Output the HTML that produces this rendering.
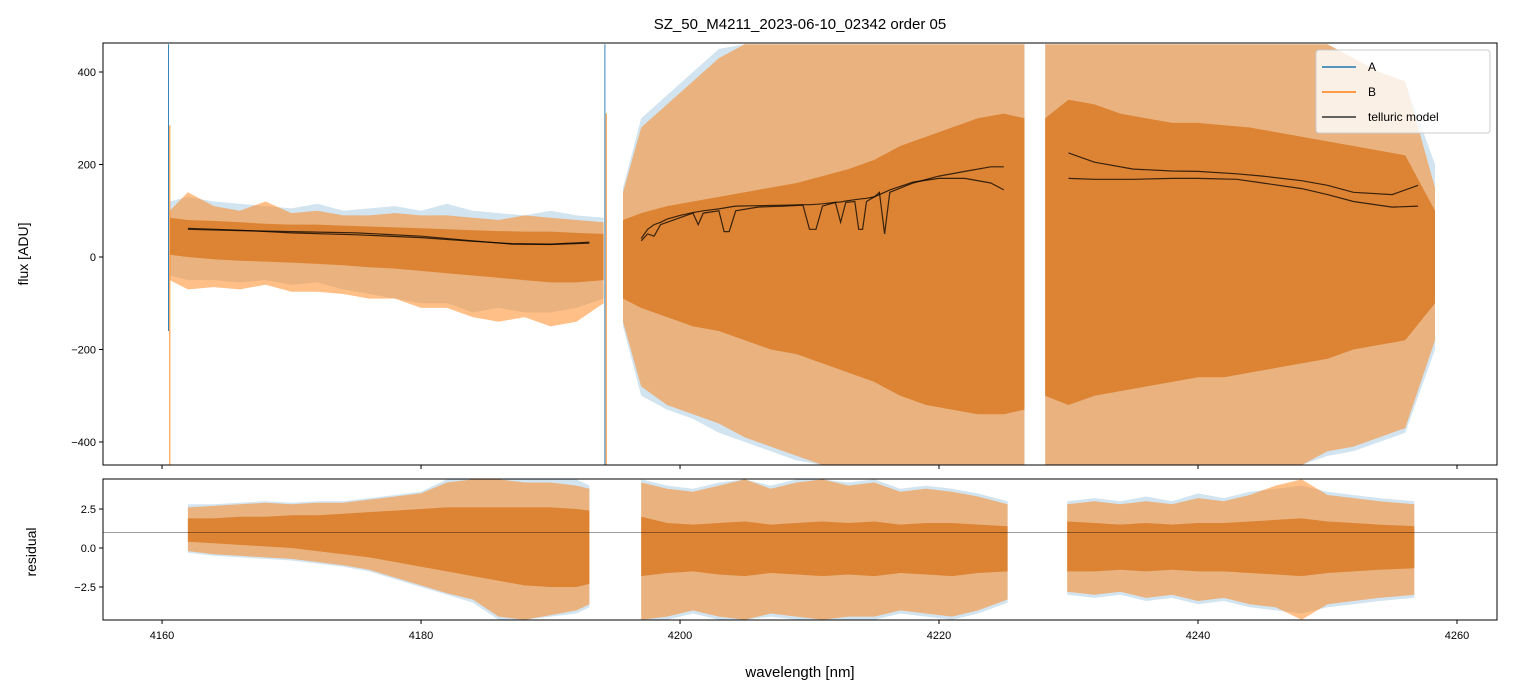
<!DOCTYPE html>
<html><head><meta charset="utf-8">
<style>
body{margin:0;background:#fff;}
svg{display:block;font-family:"Liberation Sans",sans-serif;}
</style></head>
<body>
<svg id="chart" width="1513" height="696" viewBox="0 0 1513 696">
<text x="800" y="29" text-anchor="middle" font-size="15">SZ_50_M4211_2023-06-10_02342  order 05</text>
<g id="panelTop"></g>
<g id="panelBot"></g>
<text x="28" y="254" transform="rotate(-90 28 254)" text-anchor="middle" font-size="14">flux [ADU]</text>
<text x="36" y="552" transform="rotate(-90 36 552)" text-anchor="middle" font-size="14">residual</text>
<text x="800" y="677" text-anchor="middle" font-size="15">wavelength [nm]</text>
</svg>
<script>
// ---- data ----
const xTicks=[4160,4180,4200,4220,4240,4260];
const yTicksTop=[400,200,0,-200,-400];
const yTickLabelsTop=["400","200","0","\u2212200","\u2212400"];
const yTicksBot=[2.5,0.0,-2.5];
const yTickLabelsBot=["2.5","0.0","\u22122.5"];
const fluxWl1=[4160.6,4162,4164,4166,4168,4170,4172,4174,4176,4178,4180,4182,4184,4186,4188,4190,4192,4194.1];
const fluxAHi1=[120,130,120,115,110,105,115,100,105,110,100,115,100,95,90,100,90,85];
const fluxALo1=[-40,-50,-50,-55,-50,-60,-55,-70,-80,-90,-100,-100,-120,-110,-120,-120,-110,-90];
const fluxBHi1=[100,140,110,100,120,95,100,90,90,95,90,90,85,80,90,85,80,75];
const fluxBLo1=[-50,-70,-65,-70,-60,-75,-75,-80,-90,-90,-110,-110,-130,-140,-130,-150,-140,-100];
const coreHi1=[85,80,78,75,72,70,70,68,66,64,62,60,58,56,55,55,52,50];
const coreLo1=[5,0,-5,-8,-10,-12,-15,-18,-22,-25,-30,-35,-40,-45,-50,-55,-55,-50];
const fluxWl2=[4195.6,4197,4199,4201,4203,4205,4207,4209,4211,4213,4215,4217,4219,4221,4223,4225,4226.6];
const fluxAHi2=[150,300,350,400,450,460,460,460,460,460,460,460,460,460,460,460,460];
const fluxALo2=[-150,-300,-330,-350,-380,-400,-420,-440,-450,-450,-450,-450,-450,-450,-450,-450,-450];
const fluxBHi2=[140,280,330,380,430,460,460,460,460,460,460,460,460,460,460,460,460];
const fluxBLo2=[-140,-280,-320,-340,-360,-390,-410,-430,-450,-450,-450,-450,-450,-450,-450,-450,-450];
const coreHi2=[80,95,110,120,130,140,150,160,175,190,210,240,260,280,300,310,300];
const coreLo2=[-90,-110,-130,-150,-160,-180,-200,-210,-230,-250,-270,-300,-320,-330,-340,-340,-330];
const fluxWl3=[4228.2,4230,4232,4234,4236,4238,4240,4242,4244,4246,4248,4250,4252,4254,4256,4258.3];
const fluxAHi3=[460,460,460,460,460,460,460,460,460,460,460,460,430,400,380,200];
const fluxALo3=[-450,-450,-450,-450,-450,-450,-450,-450,-450,-450,-450,-430,-420,-400,-380,-200];
const fluxBHi3=[460,460,460,460,460,460,460,460,460,460,460,460,430,400,380,150];
const fluxBLo3=[-450,-450,-450,-450,-450,-450,-450,-450,-450,-450,-450,-420,-410,-390,-370,-180];
const coreHi3=[300,340,330,310,300,290,290,285,280,270,260,250,240,230,220,100];
const coreLo3=[-300,-320,-300,-290,-280,-270,-260,-260,-250,-240,-230,-220,-200,-190,-180,-100];
const tellWl1=[4162,4166,4170,4175,4180,4184,4187,4190,4193];
const tell1a=[60,57,55,52,45,35,28,27,30];
const tell1b=[62,58,52,48,42,34,29,28,32];
const tellWl2=[4197,4197.5,4198,4198.5,4199,4200,4201,4201.4,4201.8,4203,4203.4,4203.8,4204.3,4206,4208,4209.5,4210,4210.5,4211,4212,4212.4,4212.8,4213.5,4213.8,4214.1,4214.4,4215,4215.4,4215.8,4216.2,4218,4220,4222,4224,4225];
const tell2a=[35,50,45,70,75,85,95,70,95,100,55,55,100,108,110,112,60,60,110,118,75,118,120,60,60,120,130,140,50,140,160,175,185,195,195];
const tell2b=[40,60,70,75,82,90,96,98,100,104,106,108,110,111,112,113,113,114,115,118,119,121,124,125,126,127,130,135,140,145,162,170,170,160,145];
const tellWl3=[4230,4232,4235,4238,4240,4243,4245,4248,4250,4252,4255,4257];
const tell3a=[225,205,190,186,185,180,175,165,155,140,135,155];
const tell3b=[170,168,168,170,170,168,160,148,135,120,108,110];
const resWl1=[4162,4164,4166,4168,4170,4172,4174,4176,4178,4180,4182,4184,4186,4188,4190,4192,4193];
const resAHi1=[2.8,2.8,2.9,3.0,2.9,3.0,3.0,3.2,3.4,3.6,4.4,4.4,4.4,4.4,4.4,4.4,4.0];
const resALo1=[-0.3,-0.5,-0.6,-0.7,-0.8,-1.0,-1.2,-1.5,-2.0,-2.5,-3.0,-3.5,-4.6,-4.6,-4.4,-4.2,-3.8];
const resBHi1=[2.6,2.7,2.8,2.9,2.8,2.9,2.9,3.1,3.3,3.5,4.2,4.4,4.4,4.2,4.2,4.0,3.8];
const resBLo1=[-0.2,-0.4,-0.5,-0.6,-0.7,-0.9,-1.1,-1.4,-1.9,-2.4,-2.9,-3.3,-4.4,-4.6,-4.3,-4.0,-3.6];
const resCoreHi1=[1.9,1.9,2.0,2.0,2.1,2.1,2.2,2.3,2.4,2.5,2.6,2.6,2.6,2.6,2.6,2.5,2.4];
const resCoreLo1=[0.4,0.3,0.2,0.1,0.0,-0.2,-0.4,-0.6,-0.9,-1.2,-1.5,-1.8,-2.1,-2.4,-2.5,-2.5,-2.3];
const resWl2=[4197,4199,4201,4203,4205,4207,4209,4211,4213,4215,4217,4219,4221,4223,4225.3];
const resAHi2=[4.4,4.0,3.8,4.2,4.4,4.0,4.4,4.4,4.2,4.4,3.8,4.0,3.8,3.5,3.0];
const resALo2=[-4.6,-4.6,-4.2,-4.6,-4.6,-4.4,-4.6,-4.6,-4.6,-4.6,-4.2,-4.4,-4.6,-4.2,-3.5];
const resBHi2=[4.2,3.8,3.6,4.0,4.4,3.8,4.2,4.4,4.0,4.2,3.6,3.8,3.6,3.3,2.8];
const resBLo2=[-4.6,-4.4,-4.0,-4.4,-4.6,-4.2,-4.4,-4.6,-4.4,-4.4,-4.0,-4.2,-4.4,-4.0,-3.3];
const resCoreHi2=[2.0,1.6,1.5,1.6,1.7,1.5,1.6,1.7,1.6,1.7,1.5,1.6,1.6,1.5,1.4];
const resCoreLo2=[-1.8,-1.6,-1.5,-1.7,-1.8,-1.6,-1.7,-1.8,-1.7,-1.8,-1.6,-1.7,-1.8,-1.6,-1.5];
const resWl3=[4229.9,4232,4234,4236,4238,4240,4242,4244,4246,4248,4250,4252,4254,4256.7];
const resAHi3=[3.0,3.2,3.0,3.3,3.0,3.5,3.2,3.6,3.8,4.0,3.6,3.4,3.2,3.0];
const resALo3=[-3.0,-3.2,-3.0,-3.4,-3.2,-3.6,-3.4,-3.8,-4.0,-4.2,-3.8,-3.6,-3.4,-3.2];
const resBHi3=[2.8,3.0,2.8,3.0,2.8,3.2,3.0,3.4,4.0,4.4,3.4,3.2,3.0,2.8];
const resBLo3=[-2.8,-3.0,-2.8,-3.2,-3.0,-3.4,-3.2,-3.6,-3.8,-4.6,-3.6,-3.4,-3.2,-3.0];
const resCoreHi3=[1.7,1.6,1.5,1.6,1.5,1.6,1.6,1.7,1.8,1.9,1.7,1.6,1.5,1.4];
const resCoreLo3=[-1.5,-1.5,-1.4,-1.5,-1.4,-1.5,-1.5,-1.6,-1.7,-1.8,-1.6,-1.5,-1.4,-1.3];
const residualRef=[1.0];

// ---- scales ----
const L=103,R=1497,T1=43,B1=465,T2=479,B2=620;
const X0=4155.44,X1=4263.09;
const xs=v=>L+(v-X0)/(X1-X0)*(R-L);
const ysT=v=>Math.max(T1,Math.min(B1,257-v*0.4625));
const ysB=v=>Math.max(T2,Math.min(B2,548-v*15.6));
const NS="http://www.w3.org/2000/svg";
function mk(tag,attrs,parent){const e=document.createElementNS(NS,tag);for(const k in attrs)e.setAttribute(k,attrs[k]);parent.appendChild(e);return e;}
const panelTop=document.getElementById('panelTop'),panelBot=document.getElementById('panelBot');
const blue="#1f77b4",orange="#ff7f0e",core="#dc8232";

function band(g,wl,hi,lo,ys,color,op,name){
  let pts=wl.map((w,i)=>xs(w).toFixed(1)+","+ys(hi[i]).toFixed(1));
  for(let i=wl.length-1;i>=0;i--)pts.push(xs(wl[i]).toFixed(1)+","+ys(lo[i]).toFixed(1));
  const p=mk('polygon',{points:pts.join(" "),fill:color,'fill-opacity':op,stroke:'none'},g);
  
  
}
function line(g,wl,vals,ys,color,w,op,name){
  const pts=wl.map((x,i)=>xs(x).toFixed(1)+","+ys(vals[i]).toFixed(1)).join(" ");
  const p=mk('polyline',{points:pts,fill:'none',stroke:color,'stroke-width':w,'stroke-opacity':op},g);
  
  
}
const defs=mk('defs',{},document.getElementById('chart'));
const c1=mk('clipPath',{id:'c1'},defs);mk('rect',{x:L,y:T1,width:R-L,height:B1-T1},c1);
const c2=mk('clipPath',{id:'c2'},defs);mk('rect',{x:L,y:T2,width:R-L,height:B2-T2},c2);
const gT=mk('g',{'clip-path':'url(#c1)'},panelTop);
const gB=mk('g',{'clip-path':'url(#c2)'},panelBot);

const fluxSets=[[fluxWl1,fluxAHi1,fluxALo1,fluxBHi1,fluxBLo1,coreHi1,coreLo1],[fluxWl2,fluxAHi2,fluxALo2,fluxBHi2,fluxBLo2,coreHi2,coreLo2],[fluxWl3,fluxAHi3,fluxALo3,fluxBHi3,fluxBLo3,coreHi3,coreLo3]];
fluxSets.forEach((s,i)=>{
  band(gT,s[0],s[1],s[2],ysT,blue,0.2,'flux-a-spikes-'+(i+1));
  band(gT,s[0],s[3],s[4],ysT,orange,0.5,'flux-b-spikes-'+(i+1));
  band(gT,s[0],s[5],s[6],ysT,core,0.97,'flux-core-'+(i+1));
});
line(gT,[4160.5,4160.5],[460,-160],ysT,blue,1,0.9,'flux-a-spike');
line(gT,[4160.6,4160.6],[285,-450],ysT,orange,1,0.9,'flux-b-spike');
line(gT,[4194.2,4194.2],[460,-450],ysT,blue,1,0.9,'flux-a-spike-2');
line(gT,[4194.3,4194.3],[310,-450],ysT,orange,1,0.9,'flux-b-spike-2');
[[tellWl1,tell1a],[tellWl1,tell1b],[tellWl2,tell2a],[tellWl2,tell2b],[tellWl3,tell3a],[tellWl3,tell3b]].forEach((s,i)=>line(gT,s[0],s[1],ysT,'#000',1.2,0.75,'telluric-model-line-'+(i+1)));

const resSets=[[resWl1,resAHi1,resALo1,resBHi1,resBLo1,resCoreHi1,resCoreLo1],[resWl2,resAHi2,resALo2,resBHi2,resBLo2,resCoreHi2,resCoreLo2],[resWl3,resAHi3,resALo3,resBHi3,resBLo3,resCoreHi3,resCoreLo3]];
resSets.forEach((s,i)=>{
  band(gB,s[0],s[1],s[2],ysB,blue,0.2,'residual-a-spikes-'+(i+1));
  band(gB,s[0],s[3],s[4],ysB,orange,0.5,'residual-b-spikes-'+(i+1));
  band(gB,s[0],s[5],s[6],ysB,core,0.97,'residual-core-'+(i+1));
});
line(gB,[X0,X1],[residualRef[0],residualRef[0]],ysB,'#000',0.6,0.6,'residual-reference-line');

[[T1,B1,panelTop],[T2,B2,panelBot]].forEach(([t,b,g],k)=>{
  const r=mk('rect',{x:L,y:t,width:R-L,height:b-t,fill:'none',stroke:'#000','stroke-width':1},g);
  
  
  xTicks.forEach(v=>{const x=xs(v);mk('line',{x1:x,x2:x,y1:b,y2:b+4,stroke:'#000'},g);});
});
xTicks.forEach(v=>{
  const t=mk('text',{x:xs(v),y:B2+19,'text-anchor':'middle','font-size':11},panelBot);t.textContent=v;
  
  
});
yTicksTop.forEach((v,i)=>{const y=ysT(v);mk('line',{x1:L-4,x2:L,y1:y,y2:y,stroke:'#000'},panelTop);
  const t=mk('text',{x:L-7,y:y+4,'text-anchor':'end','font-size':11},panelTop);t.textContent=yTickLabelsTop[i];
  
  });
yTicksBot.forEach((v,i)=>{const y=ysB(v);mk('line',{x1:L-4,x2:L,y1:y,y2:y,stroke:'#000'},panelBot);
  const t=mk('text',{x:L-7,y:y+4,'text-anchor':'end','font-size':11},panelBot);t.textContent=yTickLabelsBot[i];
  
  });

const lg=mk('g',{},panelTop);


mk('rect',{x:1316,y:50,width:174,height:83,rx:3,fill:'#fff','fill-opacity':0.8,stroke:'#ccc'},lg);
[["A",blue,67],["B",orange,92],["telluric model","#333",117]].forEach(([n,c,y])=>{
  const e=mk('g',{},lg);
  
  
  mk('line',{x1:1322,x2:1356,y1:y,y2:y,stroke:c,'stroke-width':1.5},e);
  const t=mk('text',{x:1368,y:y+4,'font-size':12},e);t.textContent=n;
});
</script>
</body></html>
